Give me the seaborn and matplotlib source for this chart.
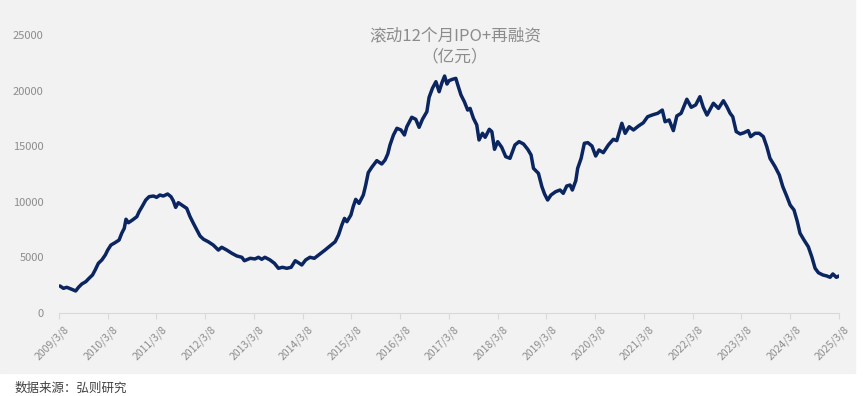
import pandas as pd
import matplotlib.pyplot as plt
import matplotlib.transforms as mtransforms
from matplotlib.patches import Rectangle
import seaborn as sns

# rolling 12-month IPO + refinancing (100m CNY)
dates = [
    '2009-03-15', '2009-04-10', '2009-05-05', '2009-06-12', '2009-07-11', '2009-08-01', '2009-08-26',
    '2009-09-25', '2009-10-19', '2009-11-14', '2009-12-04', '2009-12-28', '2010-01-23', '2010-02-18',
    '2010-03-08', '2010-04-01', '2010-05-01', '2010-06-01', '2010-06-21', '2010-07-10', '2010-07-23',
    '2010-08-10', '2010-09-09', '2010-10-12', '2010-10-29', '2010-11-23', '2010-12-18', '2011-01-12',
    '2011-02-14', '2011-03-09', '2011-04-03', '2011-04-28', '2011-05-31', '2011-06-25', '2011-07-12',
    '2011-07-30', '2011-08-19', '2011-09-14', '2011-10-21', '2011-11-15', '2011-12-10', '2012-01-05',
    '2012-01-29', '2012-02-24', '2012-03-30', '2012-05-07', '2012-06-14', '2012-07-09', '2012-08-16',
    '2012-09-23', '2012-10-30', '2012-12-07', '2012-12-26', '2013-02-08', '2013-03-15', '2013-04-10',
    '2013-05-05', '2013-05-29', '2013-07-06', '2013-08-08', '2013-09-07', '2013-10-07', '2013-11-09',
    '2013-12-11', '2014-01-11', '2014-02-04', '2014-03-01', '2014-03-30', '2014-05-01', '2014-06-03',
    '2014-07-15', '2014-08-22', '2014-09-29', '2014-11-06', '2014-12-01', '2014-12-26', '2015-01-15',
    '2015-02-02', '2015-03-04', '2015-03-21', '2015-04-09', '2015-05-04', '2015-06-05', '2015-06-23',
    '2015-07-12', '2015-08-07', '2015-09-14', '2015-10-21', '2015-11-15', '2015-12-05', '2015-12-22',
    '2016-01-17', '2016-02-12', '2016-03-13', '2016-04-08', '2016-04-26', '2016-06-02', '2016-07-02',
    '2016-07-27', '2016-08-21', '2016-09-23', '2016-10-10', '2016-11-04', '2016-11-30', '2016-12-24',
    '2017-01-14', '2017-02-03', '2017-02-21', '2017-03-08', '2017-04-01', '2017-04-28', '2017-05-17',
    '2017-06-06', '2017-07-01', '2017-07-26', '2017-08-13', '2017-09-07', '2017-10-02', '2017-10-19',
    '2017-11-14', '2017-12-04', '2018-01-04', '2018-01-23', '2018-02-12', '2018-03-08', '2018-04-07',
    '2018-05-07', '2018-06-08', '2018-07-15', '2018-08-15', '2018-09-17', '2018-10-19', '2018-11-13',
    '2018-12-01', '2019-01-07', '2019-02-02', '2019-02-22', '2019-03-17', '2019-04-11', '2019-05-16',
    '2019-06-18', '2019-07-12', '2019-08-07', '2019-09-01', '2019-09-18', '2019-10-14', '2019-10-28',
    '2019-11-23', '2019-12-17', '2020-01-12', '2020-02-12', '2020-03-11', '2020-04-05', '2020-05-07',
    '2020-06-14', '2020-07-21', '2020-08-16', '2020-09-23', '2020-10-18', '2020-11-17', '2020-12-19',
    '2021-01-26', '2021-03-03', '2021-04-04', '2021-05-09', '2021-06-19', '2021-07-23', '2021-08-13',
    '2021-09-12', '2021-10-14', '2021-11-09', '2021-12-11', '2022-01-23', '2022-02-25', '2022-03-30',
    '2022-05-01', '2022-05-26', '2022-06-23', '2022-08-10', '2022-09-17', '2022-10-24', '2022-11-19',
    '2022-12-13', '2023-01-02', '2023-01-28', '2023-02-27', '2023-03-27', '2023-04-28', '2023-05-16',
    '2023-06-18', '2023-07-19', '2023-08-19', '2023-09-14', '2023-10-08', '2023-11-15', '2023-12-17',
    '2024-01-12', '2024-02-12', '2024-03-07', '2024-04-05', '2024-04-30', '2024-05-20', '2024-06-19',
    '2024-07-21', '2024-08-16', '2024-09-10', '2024-10-05', '2024-11-07', '2024-12-07', '2024-12-31',
    '2025-01-21', '2025-02-16', '2025-03-08',
]
values = [
    2430, 2220, 2310, 2130, 1980, 2310, 2610,
    2820, 3120, 3420, 3870, 4470, 4770, 5220,
    5660, 6110, 6320, 6560, 7170, 7620, 8430,
    8120, 8360, 8660, 9110, 9620, 10160, 10460,
    10520, 10400, 10610, 10520, 10700, 10460, 10100,
    9500, 9920, 9710, 9410, 8660, 8060, 7460,
    6920, 6630, 6410, 6110, 5660, 5910, 5660,
    5370, 5130, 5010, 4700, 4920, 4860, 5010,
    4830, 5010, 4770, 4470, 4020, 4110, 4020,
    4110, 4700, 4520, 4320, 4770, 5010, 4920,
    5310, 5660, 6030, 6410, 7010, 7910, 8510,
    8210, 8810, 9560, 10220, 9860, 10610, 11510,
    12620, 13100, 13700, 13400, 13760, 14300, 15110,
    16010, 16610, 16460, 16010, 16750, 17600, 17420,
    16700, 17420, 18100, 19400, 20210, 20800, 19900,
    20710, 21310, 20590, 20890, 21010, 21100, 20350,
    19600, 19000, 18250, 18400, 17510, 16910, 15560,
    16160, 15800, 16520, 16310, 14720, 15410, 14900,
    14060, 13910, 15110, 15410, 15200, 14720, 14210,
    13010, 12560, 11360, 10700, 10160, 10610, 10910,
    11060, 10760, 11420, 11510, 11060, 11900, 13010,
    13910, 15260, 15320, 15020, 14120, 14660, 14420,
    15110, 15620, 15500, 17060, 16160, 16750, 16460,
    16820, 17110, 17650, 17810, 17960, 18250, 17200,
    17360, 16400, 17720, 17960, 19220, 18500, 18710,
    19450, 18500, 17800, 18860, 18400, 19090, 18550,
    17960, 17650, 16310, 16100, 16210, 16400, 15860,
    16160, 16160, 15860, 14960, 13910, 13160, 12410,
    11360, 10460, 9710, 9260, 8210, 7170, 6560,
    5960, 5060, 4020, 3620, 3420, 3330, 3210,
    3510, 3210, 3330,
]

tick_dates = [
    '2009-03-08', '2010-03-08', '2011-03-08', '2012-03-08', '2013-03-08', '2014-03-08',
    '2015-03-08', '2016-03-08', '2017-03-08', '2018-03-08', '2019-03-08', '2020-03-08',
    '2021-03-08', '2022-03-08', '2023-03-08', '2024-03-08', '2025-03-08',
]
tick_labels = [
    '2009/3/8', '2010/3/8', '2011/3/8', '2012/3/8', '2013/3/8', '2014/3/8',
    '2015/3/8', '2016/3/8', '2017/3/8', '2018/3/8', '2019/3/8', '2020/3/8',
    '2021/3/8', '2022/3/8', '2023/3/8', '2024/3/8', '2025/3/8',
]
y_ticks = [0, 5000, 10000, 15000, 20000, 25000]

df = pd.DataFrame({'date': pd.to_datetime(dates), 'value': values})

sns.set_theme(style='white')
plt.rcParams['font.family'] = ['Noto Sans CJK SC', 'DejaVu Sans']

W, H = 864, 396
fig = plt.figure(figsize=(W / 100, H / 100), dpi=100)
fig.patch.set_facecolor('white')
# grey chart panel, source note sits on white below it
fig.patches.append(Rectangle((0, (H - 373) / H), 855 / W, 373 / H,
                             transform=fig.transFigure, color='#f2f2f2', zorder=-10))

ax = fig.add_axes([59 / W, (H - 313) / H, 780 / W, 278 / H])
ax.set_facecolor('#f2f2f2')
ax.set_zorder(1)

sns.lineplot(data=df, x='date', y='value', ax=ax, color='#0b2560', lw=2.5, sort=False)

ax.set_xlim(pd.Timestamp('2009-03-08'), pd.Timestamp('2025-03-08'))
ax.set_ylim(0, 25000)
ax.set_yticks(y_ticks)
ax.set_yticklabels([str(v) for v in y_ticks])
ax.set_xticks(pd.to_datetime(tick_dates))
ax.set_xticklabels(tick_labels)
ax.set_xlabel('')
ax.set_ylabel('')

for s in ['top', 'right', 'left']:
    ax.spines[s].set_visible(False)
ax.spines['bottom'].set_color('#d9d9d9')
ax.spines['bottom'].set_linewidth(0.8)
ax.tick_params(axis='x', bottom=True, length=4, color='#d9d9d9', width=0.8,
               labelsize=7.5, labelcolor='#8c8c8c', pad=4)
ax.tick_params(axis='y', left=False, labelsize=8, labelcolor='#8c8c8c', pad=5)

offset = mtransforms.ScaledTranslation(5 / 100, 0, fig.dpi_scale_trans)
for lab in ax.get_xticklabels():
    lab.set_rotation(45)
    lab.set_ha('right')
    lab.set_va('top')
    lab.set_rotation_mode('anchor')
    lab.set_transform(lab.get_transform() + offset)

fig.text(455 / W, 1 - 37 / H, '滚动12个月IPO+再融资', ha='center', va='center',
         fontsize=12, color='#8c8c8c')
fig.text(455 / W, 1 - 57 / H, '（亿元）', ha='center', va='center',
         fontsize=12, color='#8c8c8c')
fig.text(15 / W, 1 - 388 / H, '数据来源：弘则研究', ha='left', va='center',
         fontsize=9, color='#404040')

fig.savefig('out.png', dpi=100, facecolor=fig.get_facecolor())
